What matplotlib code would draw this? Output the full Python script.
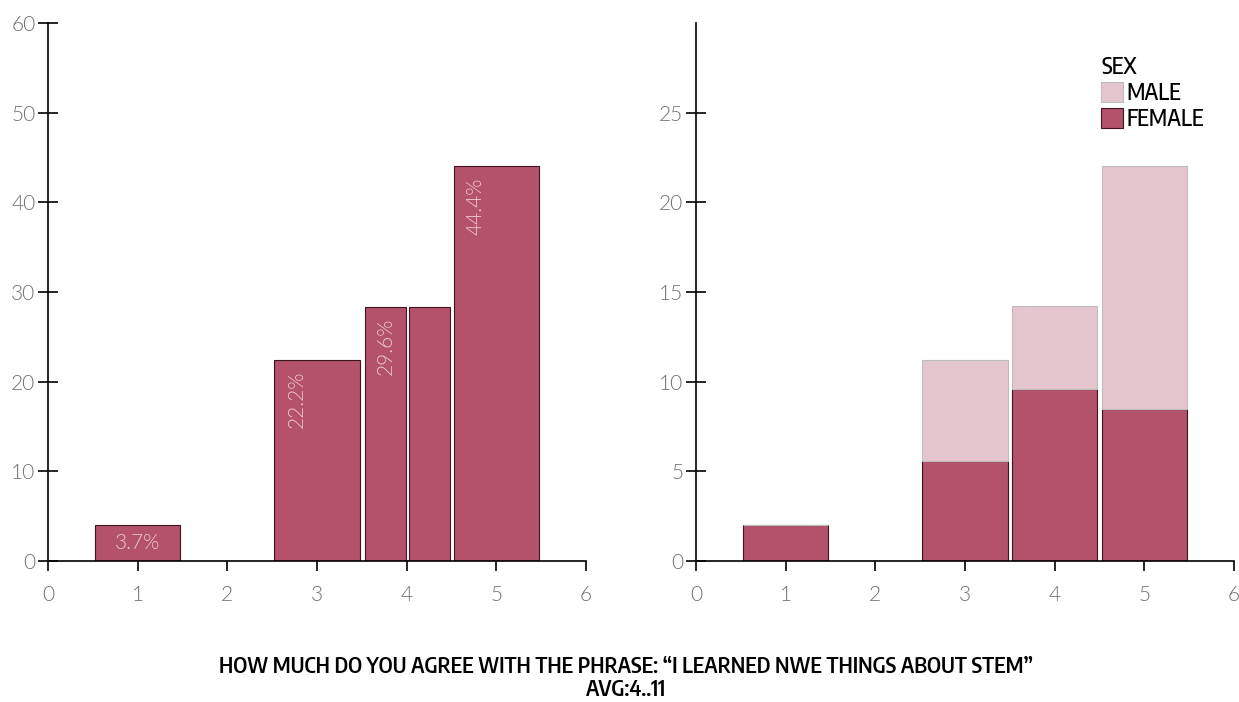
import matplotlib.pyplot as plt
from matplotlib import font_manager
from matplotlib.font_manager import FontProperties

# answers 1..5, bar heights
scores = [1, 3, 4, 5]
share_pct = [4.0, 22.4, 28.3, 44.0]
share_labels = ["3.7%", "22.2%", "29.6%", "44.4%"]

female = [2.0, 5.6, 9.6, 8.5]
male = [0.0, 5.6, 4.6, 13.5]

title = "HOW MUCH DO YOU AGREE WITH THE PHRASE: \u201cI LEARNED NWE THINGS ABOUT STEM\u201d\nAVG:4..11"


def condensed_font(weight, size):
    # look for a condensed sans face; fall back to a plain one
    cands = []
    for f in font_manager.fontManager.ttflist:
        if "condensed" in str(f.stretch) or "Narrow" in f.name or "Condensed" in f.name:
            if "Sans" in f.name or "Roboto" in f.name:
                w = f.weight if isinstance(f.weight, int) else 400
                cands.append((abs(w - weight), "semi" in str(f.stretch), f.fname))
    if cands:
        cands.sort()
        return FontProperties(fname=cands[0][2], size=size)
    return FontProperties(family="Liberation Sans", weight=weight, size=size)


title_font = condensed_font(600, 15.7)
legend_font = condensed_font(500, 16.5)

dark = "#b3526a"
light = "#e5c5ce"
tick_grey = "#707070"

fig = plt.figure(figsize=(12.39, 7.02), dpi=100)
ax1 = fig.add_axes([0.0387, 0.2009, 0.4342, 0.7664])
ax2 = fig.add_axes([0.5617, 0.2009, 0.4342, 0.7664])

# left: overall share; the 4 bin is split in two halves in the original
for x, h in zip(scores, share_pct):
    if x == 4:
        ax1.bar([x - 0.235, x + 0.255], [h, h], width=0.45, color=dark,
                edgecolor="#3d1520", linewidth=0.8)
    else:
        ax1.bar(x, h, width=0.95, color=dark, edgecolor="#3d1520", linewidth=0.8)

for x, h, lab in zip(scores, share_pct, share_labels):
    if h < 10:
        ax1.text(x, h / 2, lab, ha="center", va="center", color="#ecc8d2",
                 fontsize=15, fontfamily="Lato", fontweight=300)
    else:
        ax1.text(x - 0.23, h - 1.2, lab, ha="center", va="top", rotation=90,
                 color="#ecc8d2", fontsize=15, fontfamily="Lato", fontweight=300)

ax1.set_ylim(0, 60)
ax1.set_yticks(range(0, 61, 10))

# right: split by sex, stacked
ax2.bar(scores, female, width=0.95, color=dark, edgecolor="#3d1520",
        linewidth=0.8, label="FEMALE")
ax2.bar(scores, male, bottom=female, width=0.95, color=light, edgecolor="#bdbdbd",
        linewidth=0.8, label="MALE")
ax2.set_ylim(0, 30)
ax2.set_yticks(range(0, 26, 5))

for ax in (ax1, ax2):
    ax.set_xlim(0, 6)
    ax.set_xticks(range(0, 7))
    for s in ("top", "right"):
        ax.spines[s].set_visible(False)
    ax.spines["left"].set_linewidth(1.2)
    ax.spines["bottom"].set_linewidth(1.2)
    ax.tick_params(axis="y", direction="inout", length=14, width=1.2, pad=2)
    ax.tick_params(axis="x", direction="out", length=7, width=1.2, pad=10)
    for lab in ax.get_xticklabels() + ax.get_yticklabels():
        lab.set_fontfamily("Lato")
        lab.set_fontweight(300)
        lab.set_fontsize(15)
        lab.set_color(tick_grey)

handles, labels = ax2.get_legend_handles_labels()
leg = ax2.legend(handles[::-1], labels[::-1], title="SEX", loc="upper left",
                 bbox_to_anchor=(0.715, 0.978), frameon=False, handlelength=0.95,
                 handleheight=0.95, handletextpad=0.15, labelspacing=0.08,
                 alignment="left", prop=legend_font, title_fontproperties=legend_font)

fig.text(0.505, 0.066, title, ha="center", va="top", fontproperties=title_font,
         linespacing=1.05)

fig.savefig("out.png", dpi=100)
